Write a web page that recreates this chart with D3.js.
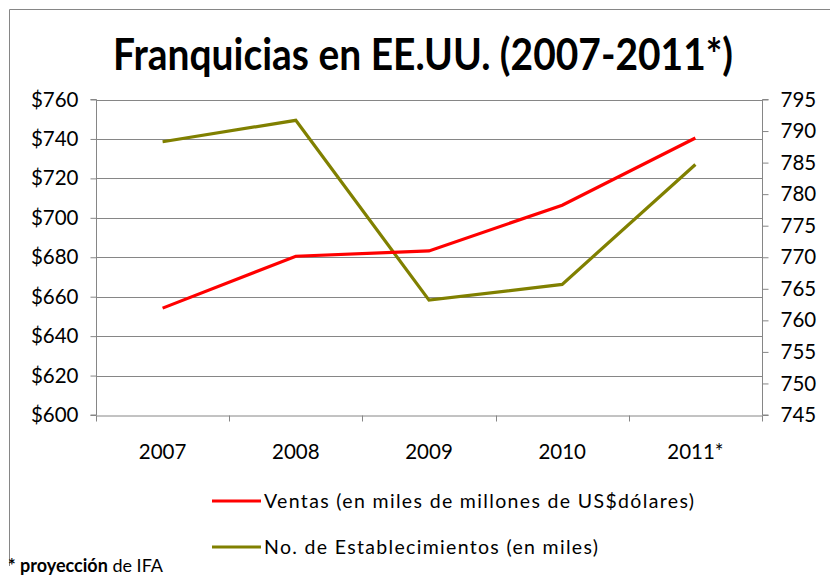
<!DOCTYPE html>
<html>
<head>
<meta charset="utf-8">
<script src="https://cdn.jsdelivr.net/npm/d3@7"></script>
<style>
  body { margin: 0; background: #fff; }
  svg { display: block; font-family: Lato, 'Open Sans', sans-serif; }
</style>
</head>
<body>
<svg width="830" height="576"></svg>
<script>
const years = ['2007', '2008', '2009', '2010', '2011*'];
const ventas = [654.2, 680.5, 683.2, 706.4, 740.5];
const establecimientos = [788.3, 791.7, 763.2, 765.7, 784.7];
const leftTicks = [600, 620, 640, 660, 680, 700, 720, 740, 760];
const rightTicks = [745, 750, 755, 760, 765, 770, 775, 780, 785, 790, 795];
const seriesNames = [
  'Ventas (en miles de millones de US$dólares)',
  'No. de Establecimientos (en miles)'
];
const seriesColors = ['#ff0000', '#808000'];
const legendWidths = [430, 334];

const svg = d3.select('svg');
const axisColor = '#868686';

// chart area frame (only top and left edges fall inside the picture)
svg.append('path')
  .attr('d', 'M9.5,566V9.5H830')
  .attr('fill', 'none')
  .attr('stroke', axisColor);

const plot = { left: 96, right: 762, top: 99.5, bottom: 415 };

const x = d3.scaleBand()
  .domain(years)
  .range([plot.left, plot.right]);

const yLeft = d3.scaleLinear()
  .domain([600, 760])
  .range([plot.bottom, plot.top]);

const yRight = d3.scaleLinear()
  .domain([745, 795])
  .range([plot.bottom, plot.top]);

// title
svg.append('text')
  .attr('x', 423)
  .attr('y', 70)
  .attr('text-anchor', 'middle')
  .attr('font-weight', 'bold')
  .attr('font-size', 44)
  .attr('textLength', 620)
  .attr('lengthAdjust', 'spacingAndGlyphs')
  .text('Franquicias en EE.UU. (2007-2011*)');

// gridlines
svg.append('g')
  .selectAll('line')
  .data(leftTicks.slice(1))
  .join('line')
  .attr('x1', plot.left)
  .attr('x2', plot.right)
  .attr('y1', d => Math.round(yLeft(d)) + 0.5)
  .attr('y2', d => Math.round(yLeft(d)) + 0.5)
  .attr('stroke', axisColor);

// left axis
const gLeft = svg.append('g')
  .attr('transform', `translate(${plot.left + 0.5},0)`)
  .call(d3.axisLeft(yLeft).tickValues(leftTicks).tickSize(6).tickPadding(12)
    .tickFormat(d => '$' + d));

// right axis
const gRight = svg.append('g')
  .attr('transform', `translate(${plot.right + 0.5},0)`)
  .call(d3.axisRight(yRight).tickValues(rightTicks).tickSize(6).tickPadding(12));

// bottom axis: ticks sit on band boundaries
const gBottom = svg.append('g')
  .attr('transform', `translate(0,${Math.round(plot.bottom) + 0.5})`)
  .call(d3.axisBottom(x).tickSize(0).tickPadding(0).tickFormat(() => ''));

gBottom.selectAll('.tick').remove();
gBottom.selectAll('.bnd')
  .data(years.map(d => x(d)).concat([plot.right]))
  .join('line')
  .attr('x1', d => Math.round(d) + 0.5)
  .attr('x2', d => Math.round(d) + 0.5)
  .attr('y1', 0)
  .attr('y2', 6)
  .attr('stroke', axisColor);

svg.append('g')
  .selectAll('text')
  .data(years)
  .join('text')
  .attr('x', d => x(d) + x.bandwidth() / 2)
  .attr('y', 459)
  .attr('text-anchor', 'middle')
  .attr('font-size', 20.5)
  .attr('fill', '#000')
  .text(d => d);

[gLeft, gRight, gBottom].forEach(g => {
  g.select('.domain').attr('stroke', axisColor);
  g.selectAll('.tick line').attr('stroke', axisColor);
  g.selectAll('.tick text')
    .attr('font-size', 20.5)
    .attr('font-family', 'Lato, sans-serif')
    .attr('fill', '#000');
});
gLeft.select('.domain').attr('d', `M-6,${plot.bottom}H0V${plot.top}H-6`);
gRight.select('.domain').attr('d', `M6,${plot.bottom}H0V${plot.top}H6`);

// lines
const cx = d => x(d) + x.bandwidth() / 2;

const lineLeft = d3.line()
  .x((d, i) => cx(years[i]))
  .y(d => yLeft(d));

const lineRight = d3.line()
  .x((d, i) => cx(years[i]))
  .y(d => yRight(d));

svg.append('path')
  .datum(establecimientos)
  .attr('d', lineRight)
  .attr('fill', 'none')
  .attr('stroke', seriesColors[1])
  .attr('stroke-width', 3.2);

svg.append('path')
  .datum(ventas)
  .attr('d', lineLeft)
  .attr('fill', 'none')
  .attr('stroke', seriesColors[0])
  .attr('stroke-width', 3.2);

// legend
const legend = svg.append('g')
  .selectAll('g')
  .data(seriesNames)
  .join('g')
  .attr('transform', (d, i) => `translate(212,${501 + i * 46})`);

legend.append('line')
  .attr('x1', 0)
  .attr('x2', 49)
  .attr('stroke', (d, i) => seriesColors[i])
  .attr('stroke-width', 3.2);

legend.append('text')
  .attr('x', 52)
  .attr('y', 7)
  .attr('font-size', 19.5)
  .attr('textLength', (d, i) => legendWidths[i])
  .attr('lengthAdjust', 'spacing')
  .text(d => d);

// footnote
const note = svg.append('text')
  .attr('x', 8)
  .attr('y', 572)
  .attr('font-size', 18);
note.append('tspan').attr('font-weight', 'bold').text('* proyección');
note.append('tspan').text(' de IFA');
</script>
</body>
</html>
